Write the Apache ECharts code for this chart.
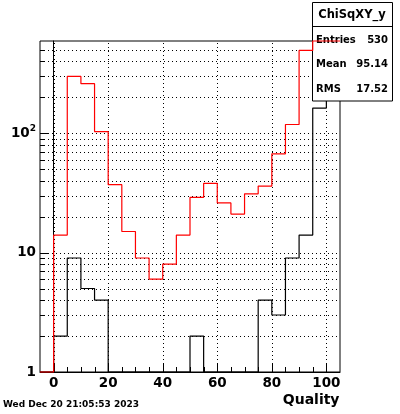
<!DOCTYPE html>
<html><head><meta charset="utf-8">
<script src="https://cdn.jsdelivr.net/npm/echarts@6/dist/echarts.min.js"></script>
<style>html,body{margin:0;padding:0;background:#fff}#c{width:400px;height:414px}</style>
</head><body><div id="c"></div>
<script>
// ---- data ----
const binLowEdges = [-5,0,5,10,15,20,25,30,35,40,45,50,55,60,65,70,75,80,85,90,95,100];
const binWidth = 5;
const redCounts   = [0,14,298,259,103,37,15,9,6,8,14,29,38,26,21,31,36,67,118,492,700,700];
const blackCounts = [0,2,9,5,4,0,0,0,0,0,0,2,0,0,0,0,4,3,9,14,162,316];
const xRange = [-5, 105];
const yRange = [1, 590];
const xLabelTicks = [0,20,40,60,80,100];
const xMinorTicks = [0,5,10,15,20,25,30,35,40,45,50,55,60,65,70,75,80,85,90,95,100];
const yLabelTicks = [1,10,100];
const yMinorTicks = [2,3,4,5,6,7,8,9,20,30,40,50,60,70,80,90,200,300,400,500];
const statsTitle = 'ChiSqXY_y';
const statsNames = ['Entries','Mean','RMS'];
const statsValues = ['530','95.14','17.52'];
const xTitle = 'Quality';
const dateText = 'Wed Dec 20 21:05:53 2023';

const FONT = '"DejaVu Sans", sans-serif';
function clampY(v){ return Math.min(Math.max(v, yRange[0]), yRange[1]); }
function stepData(counts){
  const pts = binLowEdges.map((e,i)=>[e, clampY(counts[i])]);
  const n = binLowEdges.length - 1;
  pts.push([binLowEdges[n] + binWidth, clampY(counts[n])]);
  return pts;
}
const yGridVals = yMinorTicks.concat([10,100]);

const chart = echarts.init(document.getElementById('c'), null, {renderer:'canvas'});
chart.setOption({
  animation: false,
  grid: {left:40, right:60, top:41, bottom:42, show:true, borderColor:'#000', borderWidth:1, backgroundColor:'transparent'},
  xAxis: {
    type:'value', min:xRange[0], max:xRange[1],
    axisLine:{show:true, onZero:false, lineStyle:{color:'#000', width:1}},
    axisTick:{show:false}, splitLine:{show:false},
    axisLabel:{customValues:xLabelTicks, margin:4, color:'#000', fontSize:13.5, fontWeight:'bold', fontFamily:FONT, showMinLabel:true, showMaxLabel:true}
  },
  yAxis: {
    type:'log', logBase:10, min:yRange[0], max:yRange[1],
    axisLine:{show:true, lineStyle:{color:'#000', width:1}},
    axisTick:{show:false}, splitLine:{show:false}, minorTick:{show:false},
    axisLabel:{customValues:yLabelTicks, margin:4, color:'#000',
      formatter: function(v){ const r = Math.round(v); return r===100 ? '{b|10}{s|2}' : '{b|'+r+'}'; },
      rich:{
        b:{fontSize:13.5, fontWeight:'bold', fontFamily:FONT, color:'#000', lineHeight:18},
        s:{fontSize:9, fontWeight:'bold', fontFamily:FONT, color:'#000', verticalAlign:'top', lineHeight:10}
      }
    }
  },
  series: [
    {
      type:'custom', z:1, silent:true, clip:false,
      data:[[0,1]],
      renderItem: function(params, api){
        const ch = [];
        const r = v => Math.round(v) + 0.5;
        const dot = {stroke:'#000', lineWidth:1, lineDash:[1,3], fill:null};
        const solid = {stroke:'#000', lineWidth:1, fill:null};
        const bottom = api.coord([xRange[0], yRange[0]])[1];
        const top = api.coord([xRange[0], yRange[1]])[1];
        const left = api.coord([xRange[0], yRange[0]])[0];
        const right = api.coord([xRange[1], yRange[0]])[0];
        xLabelTicks.forEach(v=>{
          const x = r(api.coord([v, yRange[0]])[0]);
          ch.push({type:'line', shape:{x1:x, y1:bottom, x2:x, y2:top}, style:dot});
        });
        yGridVals.forEach(v=>{
          const y = r(api.coord([xRange[0], v])[1]);
          ch.push({type:'line', shape:{x1:left, y1:y, x2:right, y2:y}, style:dot});
        });
        xMinorTicks.forEach(v=>{
          const x = r(api.coord([v, yRange[0]])[0]);
          const len = xLabelTicks.indexOf(v) >= 0 ? 9 : 5;
          ch.push({type:'line', shape:{x1:x, y1:bottom, x2:x, y2:bottom-len}, style:solid});
        });
        yLabelTicks.concat(yMinorTicks).forEach(v=>{
          const y = r(api.coord([xRange[0], v])[1]);
          const len = yLabelTicks.indexOf(v) >= 0 ? 9 : 5;
          ch.push({type:'line', shape:{x1:left, y1:y, x2:left+len, y2:y}, style:solid});
        });
        return {type:'group', children:ch};
      }
    },
    {
      type:'line', step:'end', z:2, clip:false, symbol:'none', showSymbol:false,
      data: stepData(blackCounts),
      lineStyle:{color:'#000', width:1.2}
    },
    {
      type:'line', step:'end', z:4, clip:false, symbol:'none', showSymbol:false,
      data: stepData(redCounts),
      lineStyle:{color:'#ff0000', width:1.2}
    }
  ],
  graphic: [
    {type:'rect', z:3, shape:{x:312.5, y:2.5, width:80, height:98.5}, style:{fill:'#fff', stroke:'#000', lineWidth:1}},
    {type:'line', z:3, shape:{x1:312.5, y1:26.5, x2:392.5, y2:26.5}, style:{stroke:'#000', lineWidth:1}},
    {type:'text', z:3, x:352, y:15, style:{text:statsTitle, font:'bold 11.5px '+FONT, fill:'#000', align:'center', verticalAlign:'middle'}},
  ].concat(statsNames.map((n,i)=>({type:'text', z:3, x:316, y:40+i*24.5, style:{text:n, font:'bold 10px '+FONT, fill:'#000', align:'left', verticalAlign:'middle'}})))
   .concat(statsValues.map((n,i)=>({type:'text', z:3, x:388, y:40+i*24.5, style:{text:n, font:'bold 10px '+FONT, fill:'#000', align:'right', verticalAlign:'middle'}})))
   .concat([
    {type:'text', x:339.5, y:400, style:{text:xTitle, font:'bold 14px '+FONT, fill:'#000', align:'right', verticalAlign:'middle'}},
    {type:'text', x:3, y:405, style:{text:dateText, font:'bold 9px '+FONT, fill:'#000', align:'left', verticalAlign:'middle'}}
  ])
});
</script>
</body></html>
